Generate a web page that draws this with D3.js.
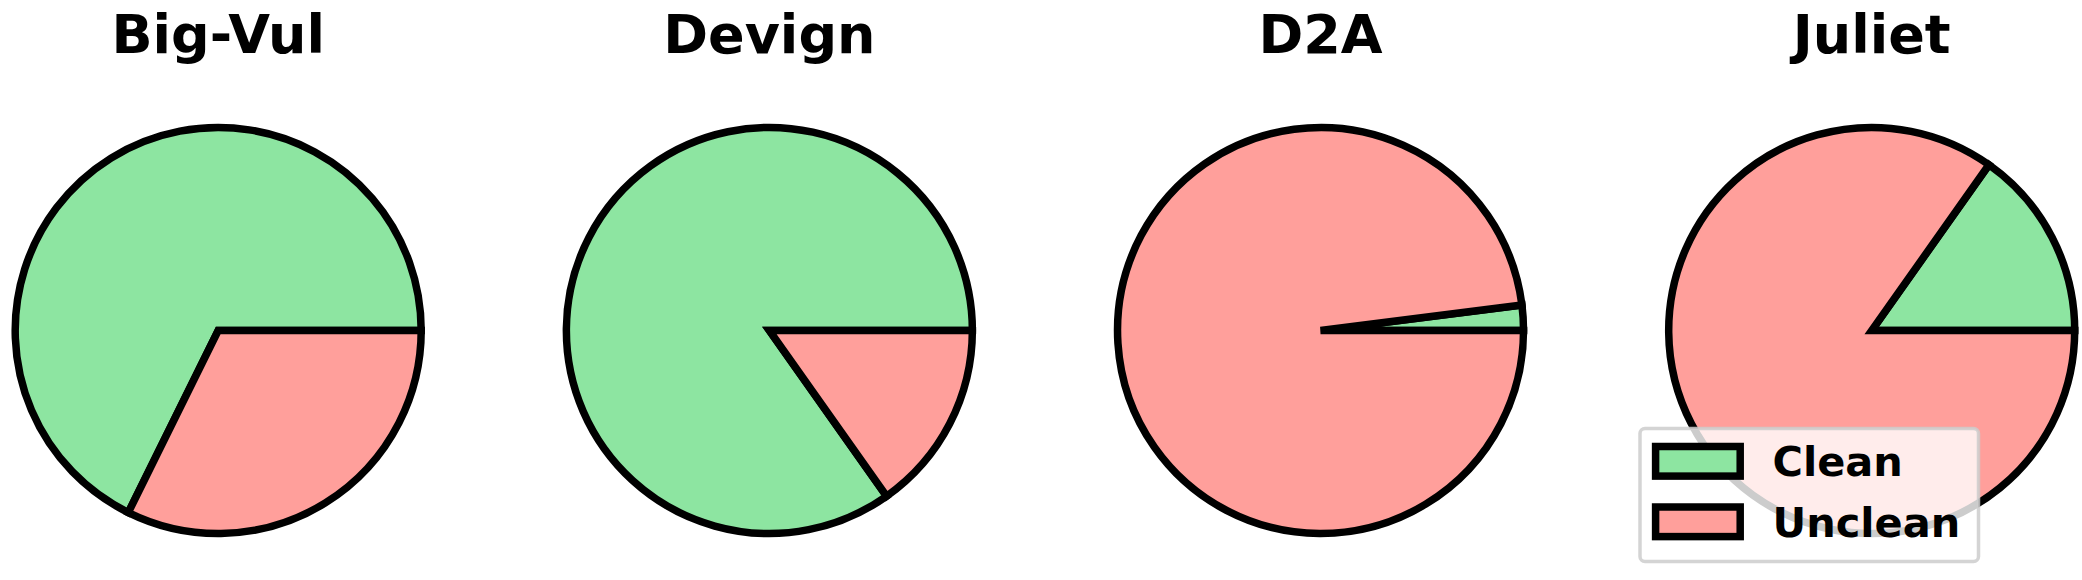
<!DOCTYPE html>
<html>
<head>
<meta charset="utf-8">
<script src="https://cdn.jsdelivr.net/npm/d3@7"></script>
<style>
  html, body { margin: 0; padding: 0; background: #ffffff; }
  svg { display: block; }
</style>
</head>
<body>
<svg id="chart" width="2082" height="580"></svg>
<script>
// ---- data ----
const datasets = ["Big-Vul", "Devign", "D2A", "Juliet"];
const labels = ["Clean", "Unclean"];
const cleanPct = [67.7, 84.8, 2.0, 15.2];
const uncleanPct = [32.3, 15.2, 98.0, 84.8];
const colors = ["#8de5a1", "#ff9f9b"];

// ---- layout ----
const W = 2082, H = 580;
const svg = d3.select("#chart");
const cx = d3.scalePoint().domain(datasets).range([218.2, 1871.7]);
const cy = 330.5;
const R = 203;
const strokeW = 7.5;

const pie = d3.pie()
  .sort(null)
  .value(d => d.v)
  .startAngle(Math.PI / 2)
  .endAngle(Math.PI / 2 - 2 * Math.PI);   // counter-clockwise from 3 o'clock

const arc = d3.arc().innerRadius(0).outerRadius(R);
const color = d3.scaleOrdinal().domain(labels).range(colors);

datasets.forEach((name, i) => {
  const g = svg.append("g").attr("transform", `translate(${cx(name)},${cy})`);
  const rows = [{k: labels[0], v: cleanPct[i]}, {k: labels[1], v: uncleanPct[i]}];
  g.selectAll("path")
    .data(pie(rows))
    .join("path")
    .attr("d", arc)
    .attr("fill", d => color(d.data.k))
    .attr("stroke", "#000")
    .attr("stroke-width", strokeW)
    .attr("stroke-linejoin", "miter");

  svg.append("text")
    .attr("x", cx(name))
    .attr("y", 52.5)
    .attr("text-anchor", "middle")
    .attr("font-family", "DejaVu Sans")
    .attr("font-weight", "bold")
    .attr("font-size", 54)
    .attr("fill", "#000")
    .text(name);
});

// ---- legend ----
const leg = svg.append("g");
leg.append("rect")
  .attr("x", 1640).attr("y", 428.5)
  .attr("width", 338.5).attr("height", 133)
  .attr("rx", 5).attr("ry", 5)
  .attr("fill", "rgba(255,255,255,0.8)")
  .attr("stroke", "rgba(204,204,204,0.85)")
  .attr("stroke-width", 3.5);

const rowY = d3.scalePoint().domain(labels).range([461.3, 521.8]);
labels.forEach(lab => {
  leg.append("rect")
    .attr("x", 1655.6).attr("y", rowY(lab) - 14.8)
    .attr("width", 84.6).attr("height", 29.6)
    .attr("fill", color(lab))
    .attr("stroke", "#000")
    .attr("stroke-width", 7.5);
  leg.append("text")
    .attr("x", 1772.5)
    .attr("y", rowY(lab) + 14.7)
    .attr("font-family", "DejaVu Sans")
    .attr("font-weight", "bold")
    .attr("font-size", 41.5)
    .attr("fill", "#000")
    .text(lab);
});
</script>
</body>
</html>
